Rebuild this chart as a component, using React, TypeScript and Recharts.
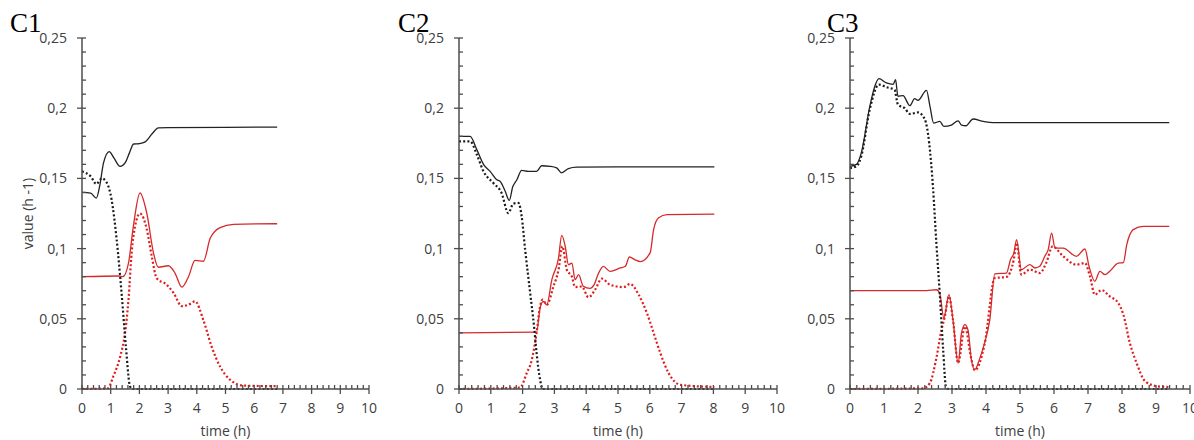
import { LineChart, Line, XAxis, YAxis, Label } from "recharts";

type Pair = [number, number];

// time (h), value (h -1)
const c1BlackSolid: Pair[] = [
  [0, 0.14], [0.3, 0.1395], [0.5, 0.136], [0.62, 0.145], [0.75, 0.161], [0.95, 0.169], [1.1, 0.165],
  [1.33, 0.1585], [1.5, 0.161], [1.65, 0.168], [1.8, 0.1745], [2.0, 0.1748], [2.2, 0.176], [2.45, 0.182],
  [2.66, 0.186], [3.0, 0.1862], [5, 0.1864], [6.8, 0.1865],
];
const c1BlackDot: Pair[] = [
  [0, 0.155], [0.3, 0.1515], [0.5, 0.146], [0.69, 0.15], [0.86, 0.147], [1.03, 0.135], [1.21, 0.106],
  [1.38, 0.068], [1.53, 0.03], [1.67, 0.002], [1.75, 0], [6.8, 0],
];
const c1RedSolid: Pair[] = [
  [0, 0.08], [1.3, 0.0805], [1.42, 0.08], [1.62, 0.0897], [1.79, 0.116], [2.02, 0.1396], [2.26, 0.125],
  [2.49, 0.097], [2.66, 0.0867], [3.01, 0.0878], [3.24, 0.0826], [3.48, 0.0726], [3.71, 0.08], [3.94, 0.0916],
  [4.23, 0.091], [4.47, 0.1075], [4.81, 0.115], [5.28, 0.1173], [6.8, 0.1177],
];
const c1RedDot: Pair[] = [
  [0, 0], [0.9, 0.0005], [1.09, 0.009], [1.33, 0.023], [1.5, 0.04], [1.62, 0.0636], [1.73, 0.097],
  [1.85, 0.116], [2.02, 0.125], [2.26, 0.1135], [2.43, 0.0945], [2.6, 0.079], [2.95, 0.0743], [3.19, 0.0684],
  [3.48, 0.059], [3.71, 0.06], [3.94, 0.0624], [4.23, 0.049], [4.52, 0.03], [4.81, 0.016], [5.16, 0.0066],
  [5.63, 0.0024], [6.8, 0.002],
];

const c2BlackSolid: Pair[] = [
  [0, 0.18], [0.35, 0.18], [0.56, 0.1705], [0.77, 0.16], [0.98, 0.155], [1.19, 0.149], [1.29, 0.148],
  [1.45, 0.141], [1.58, 0.1344], [1.69, 0.144], [1.82, 0.149], [1.97, 0.1557], [2.18, 0.155], [2.44, 0.155],
  [2.6, 0.159], [2.86, 0.1586], [3.07, 0.1575], [3.23, 0.154], [3.44, 0.157], [3.7, 0.158], [5, 0.1582],
  [8.03, 0.1582],
];
const c2BlackDot: Pair[] = [
  [0, 0.1764], [0.35, 0.1764], [0.56, 0.167], [0.77, 0.155], [1.08, 0.1467], [1.34, 0.1396], [1.55, 0.1253],
  [1.71, 0.132], [1.87, 0.1325], [1.97, 0.123], [2.08, 0.0992], [2.24, 0.068], [2.36, 0.0446], [2.44, 0.0256],
  [2.55, 0.0066], [2.63, 0], [8.03, 0],
];
const c2RedSolid: Pair[] = [
  [0, 0.04], [2.44, 0.0405], [2.55, 0.0577], [2.65, 0.0624], [2.76, 0.06], [2.92, 0.0779], [3.13, 0.0933],
  [3.23, 0.1094], [3.34, 0.1016], [3.44, 0.0886], [3.55, 0.0897], [3.65, 0.0779], [3.76, 0.0814],
  [3.91, 0.0731], [4.12, 0.0717], [4.25, 0.0743], [4.39, 0.0826], [4.54, 0.0874], [4.75, 0.0838],
  [5.07, 0.0862], [5.23, 0.0874], [5.36, 0.094], [5.54, 0.092], [5.7, 0.0907], [6.01, 0.097], [6.12, 0.1135],
  [6.27, 0.1218], [6.54, 0.1242], [8.03, 0.1245],
];
const c2RedDot: Pair[] = [
  [0, 0], [1.92, 0.001], [2.13, 0.0114], [2.29, 0.0209], [2.44, 0.04], [2.55, 0.059], [2.63, 0.0636],
  [2.76, 0.06], [2.97, 0.073], [3.13, 0.085], [3.25, 0.1016], [3.39, 0.085], [3.55, 0.08], [3.65, 0.0726],
  [3.86, 0.073], [4.07, 0.0653], [4.28, 0.0707], [4.49, 0.0786], [4.75, 0.0743], [5.17, 0.0726],
  [5.38, 0.0748], [5.65, 0.0672], [5.91, 0.054], [6.12, 0.04], [6.33, 0.0256], [6.59, 0.0114], [6.96, 0.003],
  [8.03, 0.0014],
];

const c3BlackSolid: Pair[] = [
  [0, 0.1586], [0.19, 0.16], [0.33, 0.168], [0.58, 0.201], [0.73, 0.2156], [0.85, 0.221], [1.07, 0.218],
  [1.27, 0.217], [1.34, 0.2203], [1.41, 0.2084], [1.56, 0.209], [1.76, 0.2018], [1.9, 0.2068], [2.0, 0.2056],
  [2.25, 0.2127], [2.35, 0.2016], [2.46, 0.1894], [2.64, 0.1906], [2.76, 0.187], [2.98, 0.188], [3.18, 0.191],
  [3.28, 0.188], [3.41, 0.1875], [3.62, 0.1923], [3.92, 0.1906], [4.21, 0.1897], [9.39, 0.1897],
];
const c3BlackDot: Pair[] = [
  [0, 0.1574], [0.19, 0.1586], [0.33, 0.1657], [0.58, 0.199], [0.85, 0.2168], [1.07, 0.215], [1.31, 0.213],
  [1.41, 0.2026], [1.61, 0.2], [1.76, 0.1959], [2.0, 0.197], [2.2, 0.192], [2.33, 0.175], [2.44, 0.144],
  [2.54, 0.104], [2.64, 0.068], [2.74, 0.028], [2.82, 0.002], [2.9, 0], [9.39, 0],
];
const c3RedSolid: Pair[] = [
  [0, 0.07], [2.25, 0.07], [2.54, 0.0707], [2.64, 0.068], [2.76, 0.0506], [2.91, 0.0672], [3.03, 0.049],
  [3.18, 0.0185], [3.28, 0.04], [3.38, 0.0458], [3.47, 0.042], [3.57, 0.021], [3.67, 0.0138], [3.82, 0.022],
  [3.96, 0.0328], [4.11, 0.049], [4.26, 0.082], [4.6, 0.0826], [4.72, 0.092], [4.82, 0.0969], [4.9, 0.1064],
  [5.04, 0.085], [5.29, 0.0886], [5.44, 0.0862], [5.58, 0.0874], [5.73, 0.0945], [5.83, 0.0993], [5.93, 0.111],
  [6.03, 0.1004], [6.27, 0.1004], [6.66, 0.0945], [6.91, 0.0997], [7.03, 0.0874], [7.2, 0.0767], [7.35, 0.0838],
  [7.5, 0.0814], [7.64, 0.0838], [7.89, 0.0897], [8.04, 0.09], [8.14, 0.1028], [8.33, 0.1135], [8.63, 0.1159],
  [9.39, 0.1159],
];
const c3RedDot: Pair[] = [
  [0, 0], [2.15, 0.0005], [2.35, 0.0043], [2.54, 0.022], [2.69, 0.042], [2.79, 0.0518], [2.91, 0.066],
  [3.03, 0.049], [3.18, 0.0185], [3.38, 0.0446], [3.57, 0.021], [3.67, 0.0133], [3.96, 0.032], [4.26, 0.079],
  [4.6, 0.0798], [4.82, 0.0926], [4.9, 0.104], [5.04, 0.0814], [5.29, 0.085], [5.58, 0.0826], [5.77, 0.0897],
  [5.96, 0.1016], [6.27, 0.0945], [6.66, 0.0886], [6.91, 0.0897], [7.06, 0.08], [7.2, 0.0672], [7.4, 0.0705],
  [7.64, 0.066], [7.89, 0.0612], [8.04, 0.053], [8.23, 0.0328], [8.43, 0.0185], [8.68, 0.0055], [9.02, 0.002],
  [9.39, 0.0014],
];

// ticks every 0.01 (labels at 0.05) and every 0.2 h (labels at whole hours)
const yTicks = Array.from({ length: 26 }, (_, i) => i / 100);
const xTicks = Array.from({ length: 51 }, (_, i) => i / 5);

const AXIS = "#4d4d4d";
const TXT = "#404040";
const FONT = "'Open Sans', 'Noto Sans', sans-serif";
const PLOT_BOTTOM = 389;

const pts = (a: Pair[]) => a.map(([t, v]) => ({ t, v }));
const fmt = (v: number) => String(Math.round(v * 100) / 100).replace(".", ",");

function XTick(props: any) {
  const { x, payload } = props;
  const v = payload.value as number;
  const major = Math.abs(v - Math.round(v)) < 1e-6;
  return (
    <g>
      <line x1={x} x2={x} y1={PLOT_BOTTOM - 4} y2={major ? PLOT_BOTTOM + 5 : PLOT_BOTTOM} stroke={AXIS} strokeWidth={1.3} />
      {major && (
        <text x={x} y={PLOT_BOTTOM + 14} dy="0.71em" textAnchor="middle" fill={TXT} fontSize={14} fontFamily={FONT}>
          {Math.round(v)}
        </text>
      )}
    </g>
  );
}

function makeYTick(axisX: number) {
  return function YTick(props: any) {
    const { y, payload } = props;
    const v = payload.value as number;
    const major = Math.round(v * 100) % 5 === 0;
    return (
      <g>
        <line x1={major ? axisX - 5 : axisX} x2={axisX + 4} y1={y} y2={y} stroke={AXIS} strokeWidth={1.3} />
        {major && (
          <text x={axisX - 15} y={y} dy="0.355em" textAnchor="end" fill={TXT} fontSize={14} fontFamily={FONT}>
            {fmt(v)}
          </text>
        )}
      </g>
    );
  };
}

interface PanelProps {
  title: string;
  titleLeft: number;
  left: number;
  width: number;
  yWidth: number;
  right: number;
  yLabel?: boolean;
  blackSolid: Pair[];
  blackDot: Pair[];
  redSolid: Pair[];
  redDot: Pair[];
}

function Panel(p: PanelProps) {
  const YTick = makeYTick(p.yWidth);
  return (
    <>
      <div
        style={{
          position: "absolute",
          left: p.titleLeft,
          top: 10,
          fontFamily: "'Liberation Serif', serif",
          fontSize: 27,
          lineHeight: "27px",
          color: "#000",
          zIndex: 2,
        }}
      >
        {p.title}
      </div>
      <div style={{ position: "absolute", left: p.left, top: 0 }}>
        <LineChart width={p.width} height={440} margin={{ top: 38, right: p.right, left: 0, bottom: 1 }}>
          <XAxis
            dataKey="t"
            type="number"
            domain={[0, 10]}
            ticks={xTicks}
            interval={0}
            height={50}
            tick={XTick}
            tickLine={false}
            stroke={AXIS}
            strokeWidth={1.5}
          >
            <Label
              value="time (h)"
              position="insideBottom"
              offset={3}
              style={{ fill: TXT, fontSize: 14, fontFamily: FONT }}
            />
          </XAxis>
          <YAxis
            type="number"
            domain={[0, 0.25]}
            ticks={yTicks}
            interval={0}
            width={p.yWidth}
            tick={YTick}
            tickLine={false}
            stroke={AXIS}
            strokeWidth={1.5}
          >
            {p.yLabel && (
              <Label
                value="value (h -1)"
                angle={-90}
                position="insideLeft"
                offset={28}
                style={{ fill: TXT, fontSize: 14, fontFamily: FONT, textAnchor: "middle" }}
              />
            )}
          </YAxis>
          <Line
            data={pts(p.redDot)}
            dataKey="v"
            type="monotone"
            stroke="#e01b1b"
            strokeWidth={2.2}
            strokeDasharray="2 2.2"
            dot={false}
            isAnimationActive={false}
          />
          <Line
            data={pts(p.redSolid)}
            dataKey="v"
            type="monotone"
            stroke="#d42a2a"
            strokeWidth={1.3}
            dot={false}
            isAnimationActive={false}
          />
          <Line
            data={pts(p.blackDot)}
            dataKey="v"
            type="monotone"
            stroke="#1a1a1a"
            strokeWidth={2.2}
            strokeDasharray="2 2.2"
            dot={false}
            isAnimationActive={false}
          />
          <Line
            data={pts(p.blackSolid)}
            dataKey="v"
            type="monotone"
            stroke="#222"
            strokeWidth={1.3}
            dot={false}
            isAnimationActive={false}
          />
        </LineChart>
      </div>
    </>
  );
}

export default function App() {
  return (
    <div style={{ position: "absolute", left: 0, top: 0, width: 1194, height: 440, background: "#fff", overflow: "hidden" }}>
      <Panel
        title="C1"
        titleLeft={10}
        left={0}
        width={384}
        yWidth={82}
        right={15}
        yLabel
        blackSolid={c1BlackSolid}
        blackDot={c1BlackDot}
        redSolid={c1RedSolid}
        redDot={c1RedDot}
      />
      <Panel
        title="C2"
        titleLeft={398}
        left={399}
        width={393}
        yWidth={60}
        right={15}
        blackSolid={c2BlackSolid}
        blackDot={c2BlackDot}
        redSolid={c2RedSolid}
        redDot={c2RedDot}
      />
      <Panel
        title="C3"
        titleLeft={827}
        left={790}
        width={404}
        yWidth={60}
        right={4}
        blackSolid={c3BlackSolid}
        blackDot={c3BlackDot}
        redSolid={c3RedSolid}
        redDot={c3RedDot}
      />
    </div>
  );
}
